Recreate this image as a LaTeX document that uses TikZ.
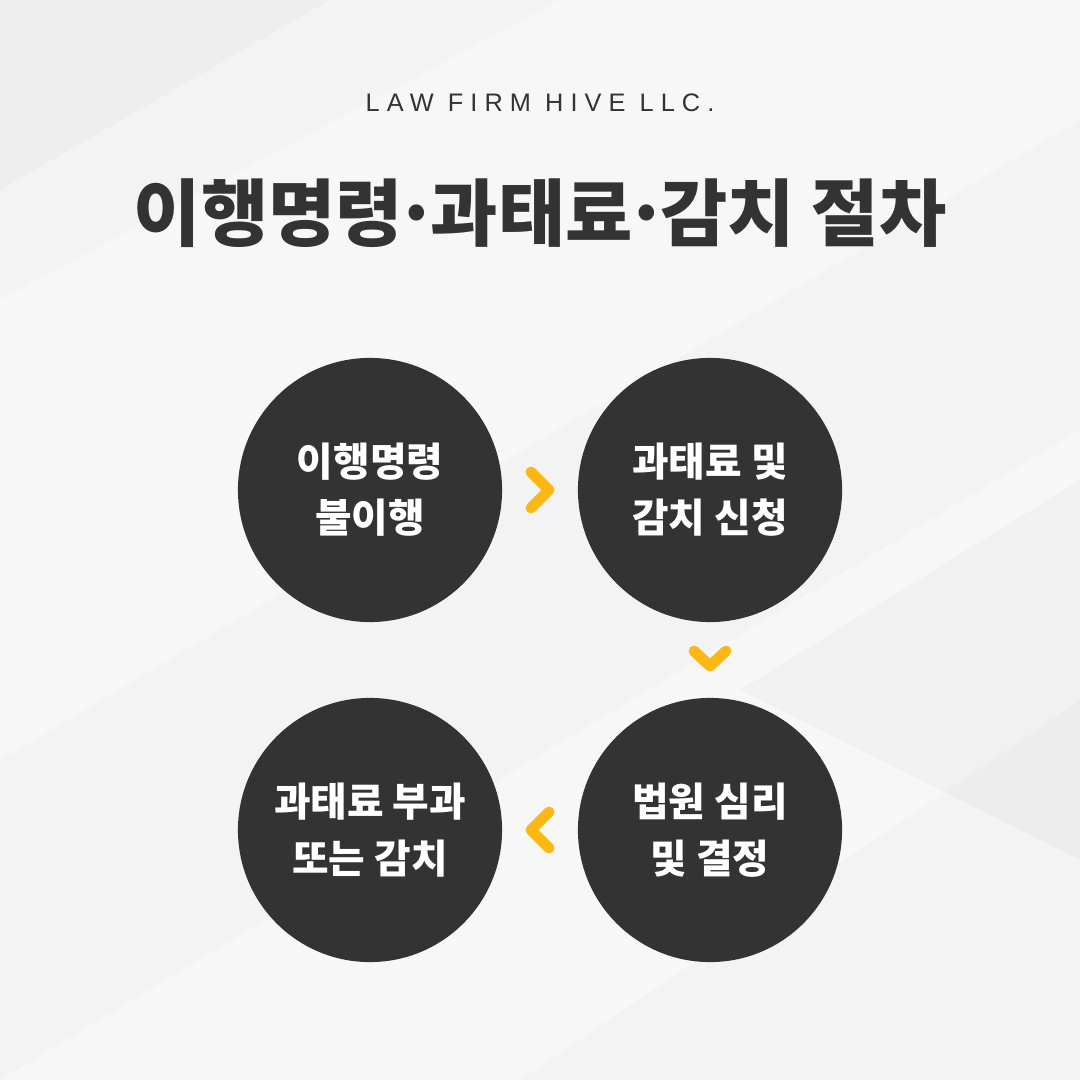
\documentclass[tikz,border=0pt]{standalone}
\usepackage{fontspec}
\usepackage{tikz}
\usetikzlibrary{
    positioning,
    calc
}
\newfontfamily\krfont{Noto Sans CJK KR}
\newfontfamily\headfont[LetterSpace=28]{Liberation Sans}
\newcommand\narrowdot{\makebox[0.38em]{·}}
\definecolor{bgcol}{HTML}{F3F3F3}
\definecolor{stepfill}{HTML}{333333}
\definecolor{chevcol}{HTML}{FBB814}
\definecolor{inkcol}{HTML}{333333}
\tikzset{
    stepcircle/.style = {
      circle, fill=stepfill, minimum size=2.64cm, inner sep=0pt,
      text=white, align=center,
      font=\krfont\bfseries\fontsize{11.3pt}{16pt}\selectfont
    }
  }
\tikzset{
    chevron/.style = {
      draw=chevcol, line width=3.1pt, line cap=round, line join=round
    }
  }

\begin{document}
\begin{tikzpicture}[x=0.01cm,y=-0.01cm]

% background
\fill[bgcol] (0,0) rectangle (1080,1080);
\fill[white,opacity=0.4] (0,300) -- (560,0) -- (1080,0) -- (1080,120) -- (0,760) -- cycle;
\fill[white,opacity=0.4] (0,1080) -- (1080,430) -- (1080,700) -- (520,1080) -- cycle;
\fill[black,opacity=0.025] (740,690) -- (1080,480) -- (1080,860) -- cycle;
\fill[black,opacity=0.02] (0,0) -- (330,0) -- (0,190) -- cycle;
\useasboundingbox (0,0) rectangle (1080,1080);

\node[text=inkcol, font=\headfont\fontsize{7.2pt}{9pt}\selectfont]
  at (540,103) (firm) {LAW FIRM HIVE LLC.};

\node[text=inkcol, font=\krfont\bfseries\fontsize{20.8pt}{24pt}\selectfont]
  at (540,213) (title) {이행명령\narrowdot 과태료\narrowdot 감치 절차};

\node[stepcircle] at (370,490) (step_one) {이행명령\\불이행};
\node[stepcircle] at (710,490) (step_two) {과태료 및\\감치 신청};
\node[stepcircle] at (710,830) (step_three) {법원 심리\\및 결정};
\node[stepcircle] at (370,830) (step_four) {과태료 부과\\또는 감치};

\coordinate (chev_a) at ($(step_one)!0.5!(step_two)$);
\coordinate (chev_b) at ($(step_two)!0.5!(step_three)$);
\coordinate (chev_c) at ($(step_three)!0.5!(step_four)$);

\draw[chevron] (chev_a) ++(-9,-18) -- ++(18,18) -- ++(-18,18);
\draw[chevron] (chev_b) ++(-16,-9) -- ++(16,15) -- ++(16,-15);
\draw[chevron] (chev_c) ++(9,-18) -- ++(-18,18) -- ++(18,18);

\end{tikzpicture}
\end{document}
